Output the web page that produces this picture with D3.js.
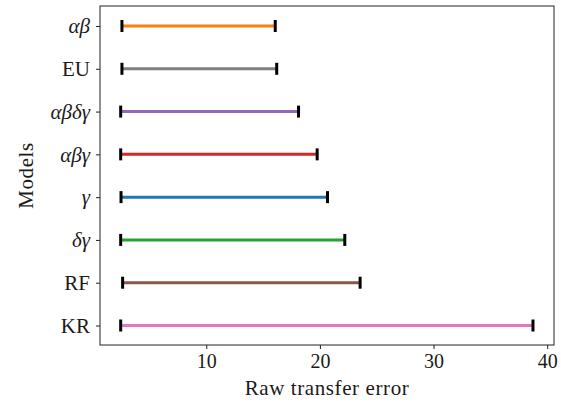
<!DOCTYPE html>
<html>
<head>
<meta charset="utf-8">
<script src="https://cdn.jsdelivr.net/npm/d3@7"></script>
<style>
  html, body { margin: 0; padding: 0; background: #fff; }
  text { font-family: "Liberation Serif", "DejaVu Serif", serif; fill: #1a1a1a; }
</style>
</head>
<body>
<svg id="chart" width="561" height="404"></svg>
<script>
// Models, top to bottom
const models = ["αβ", "EU", "αβδγ", "αβγ", "γ", "δγ", "RF", "KR"];
// Whether a model name is a math symbol (set in italic)
const isMath = [true, false, true, true, true, true, false, false];
// Lower and upper end of each error range
const lowValues  = [2.58, 2.58, 2.47, 2.47, 2.50, 2.47, 2.64, 2.47];
const highValues = [16.07, 16.20, 18.12, 19.76, 20.67, 22.19, 23.54, 38.75];
const seriesColors = ["#ff7f0e", "#7f7f7f", "#9467bd", "#d62728", "#1f77b4", "#2ca02c", "#8c564b", "#e377c2"];
const xTicks = [10, 20, 30, 40];

const svg = d3.select("#chart");
const margin = { left: 100, right: 7, top: 6, bottom: 59 };
const W = 561, H = 404;
const plotW = W - margin.left - margin.right;
const plotH = H - margin.top - margin.bottom;

const x = d3.scaleLinear().domain([0.65, 40.6]).range([0, plotW]);
const y = d3.scalePoint().domain(models).range([20, plotH - 19.5]);

const g = svg.append("g").attr("transform", `translate(${margin.left},${margin.top})`);

// Range lines
const rows = models.map((m, i) => ({ m, lo: lowValues[i], hi: highValues[i], c: seriesColors[i] }));
g.selectAll("line.range").data(rows).enter().append("line")
  .attr("class", "range")
  .attr("x1", d => x(d.lo)).attr("x2", d => x(d.hi))
  .attr("y1", d => y(d.m)).attr("y2", d => y(d.m))
  .attr("stroke", d => d.c).attr("stroke-width", 3);

// End caps
["lo", "hi"].forEach(k => {
  g.selectAll("line.cap-" + k).data(rows).enter().append("line")
    .attr("class", "cap-" + k)
    .attr("x1", d => x(d[k])).attr("x2", d => x(d[k]))
    .attr("y1", d => y(d.m) - 6).attr("y2", d => y(d.m) + 6)
    .attr("stroke", "#000").attr("stroke-width", 3);
});

// Axes
const xAxis = d3.axisBottom(x).tickValues(xTicks).tickSize(4).tickPadding(5).tickFormat(d3.format("d"));
const gx = g.append("g").attr("transform", `translate(0,${plotH})`).call(xAxis);
gx.select(".domain").remove();
gx.selectAll("line").attr("stroke", "#222").attr("stroke-width", 1);
gx.selectAll("text").style("font-size", "20px").attr("fill", "#1a1a1a");

const yAxis = d3.axisLeft(y).tickSize(4).tickPadding(6);
const gy = g.append("g").call(yAxis);
gy.select(".domain").remove();
gy.selectAll("line").attr("stroke", "#222").attr("stroke-width", 1);
gy.selectAll("text")
  .style("font-size", "21px")
  .style("font-style", (d, i) => isMath[i] ? "italic" : "normal")
  .attr("fill", "#1a1a1a");

// Frame
g.append("rect").attr("x", 0).attr("y", 0).attr("width", plotW).attr("height", plotH)
  .attr("fill", "none").attr("stroke", "#222").attr("stroke-width", 1);

// Axis titles
svg.append("text").attr("x", margin.left + plotW / 2).attr("y", 395)
  .attr("text-anchor", "middle").style("font-size", "21px").style("letter-spacing", "0.6px")
  .text("Raw transfer error");
svg.append("text").attr("transform", `translate(33,${margin.top + plotH / 2}) rotate(-90)`)
  .attr("text-anchor", "middle").style("font-size", "21px").style("letter-spacing", "0.6px")
  .text("Models");
</script>
</body>
</html>
